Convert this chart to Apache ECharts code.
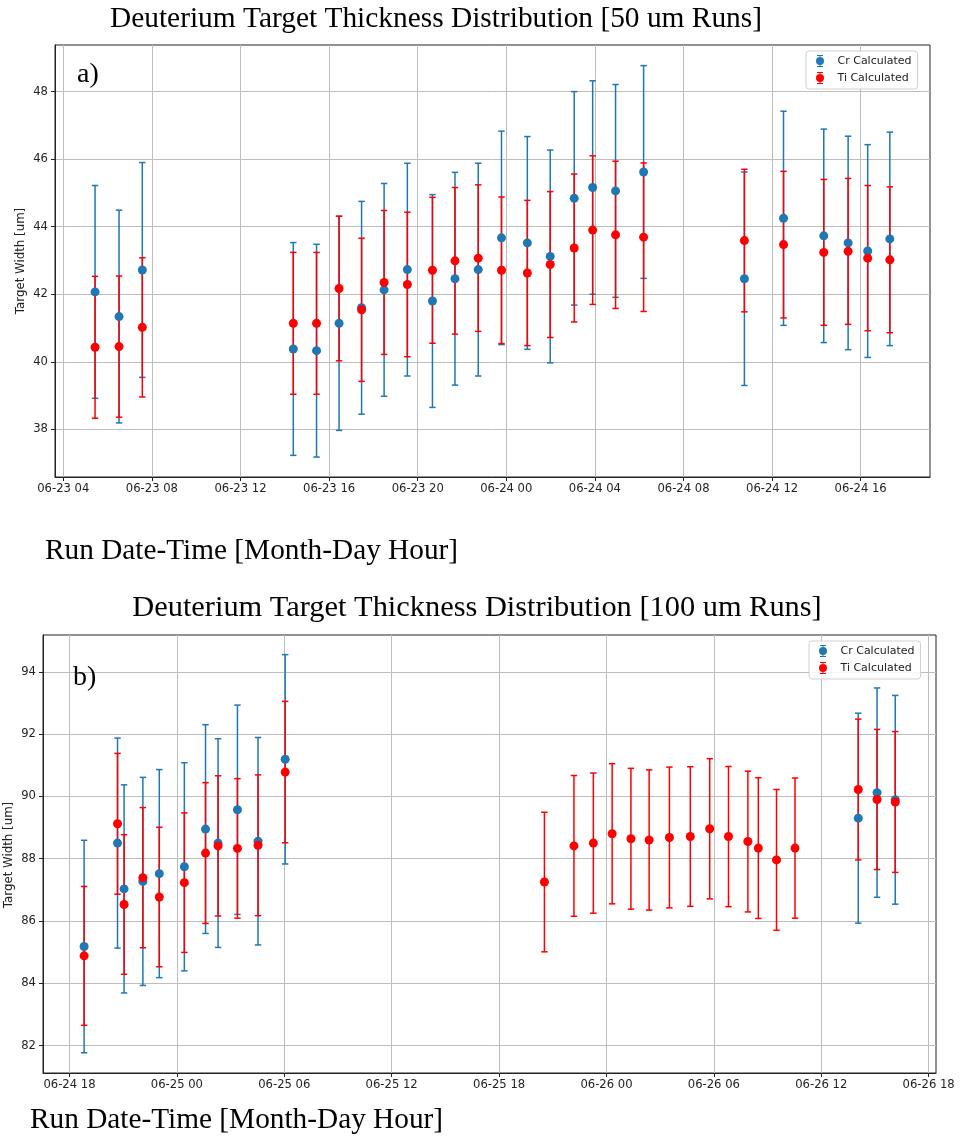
<!DOCTYPE html>
<html>
<head>
<meta charset="utf-8">
<script src="https://cdn.jsdelivr.net/npm/echarts@6/dist/echarts.min.js"></script>
<style>
html,body{margin:0;padding:0;background:#fff;}
#chart{width:960px;height:1139px;}
</style>
</head>
<body>
<div id="chart"></div>
<script>
// ---------- DATA (a) 50 um runs ----------
const timesA = ['06-23 05:26','06-23 06:31','06-23 07:34','06-23 14:23','06-23 15:26','06-23 16:27','06-23 17:28','06-23 18:29','06-23 19:32','06-23 20:40','06-23 21:41','06-23 22:44','06-23 23:47','06-24 00:57','06-24 01:59','06-24 03:04','06-24 03:54','06-24 04:56','06-24 06:12','06-24 10:45','06-24 12:31','06-24 14:20','06-24 15:26','06-24 16:19','06-24 17:19'];
const crA    = [42.07,41.34,42.72,40.38,40.33,41.14,41.60,42.13,42.73,41.80,42.46,42.73,43.67,43.52,43.12,44.84,45.16,45.06,45.62,42.46,44.25,43.73,43.52,43.28,43.64];
const crErrA = [3.15,3.15,3.18,3.15,3.15,3.17,3.15,3.15,3.15,3.15,3.15,3.15,3.16,3.15,3.15,3.16,3.16,3.15,3.15,3.16,3.17,3.16,3.16,3.15,3.16];
const tiA    = [40.43,40.45,41.02,41.14,41.14,42.17,41.54,42.35,42.29,42.71,42.99,43.07,42.71,42.63,42.88,43.37,43.90,43.76,43.69,43.59,43.47,43.24,43.27,43.07,43.02];
const tiErrA = [2.10,2.09,2.06,2.10,2.10,2.14,2.12,2.13,2.14,2.16,2.17,2.17,2.17,2.15,2.16,2.19,2.20,2.18,2.20,2.11,2.17,2.16,2.16,2.15,2.16];
const xTicksA = ['06-23 04','06-23 08','06-23 12','06-23 16','06-23 20','06-24 00','06-24 04','06-24 08','06-24 12','06-24 16'];
const yTicksA = [38,40,42,44,46,48];

// ---------- DATA (b) 100 um runs ----------
const timesB = ['06-24 18:49','06-24 20:41','06-24 21:03','06-24 22:06','06-24 23:01','06-25 00:25','06-25 01:36','06-25 02:18','06-25 03:23','06-25 04:32','06-25 06:03','06-25 20:32','06-25 22:11','06-25 23:16','06-26 00:19','06-26 01:22','06-26 02:23','06-26 03:31','06-26 04:41','06-26 05:46','06-26 06:49','06-26 07:54','06-26 08:29','06-26 09:30','06-26 10:32','06-26 14:04','06-26 15:07','06-26 16:08'];
const crB    = [85.18,88.50,87.03,87.27,87.52,87.74,88.95,88.50,89.57,88.56,91.19,null,null,null,null,null,null,null,null,null,null,null,null,null,null,89.30,90.12,89.89];
const crErrB = [3.41,3.37,3.34,3.34,3.34,3.34,3.35,3.35,3.36,3.33,3.36,null,null,null,null,null,null,null,null,null,null,null,null,null,null,3.37,3.36,3.35];
const tiB    = [84.88,89.12,86.53,87.39,86.77,87.23,88.18,88.41,88.33,88.43,90.78,87.25,88.41,88.50,88.80,88.64,88.60,88.68,88.71,88.96,88.71,88.55,88.34,87.96,88.34,90.22,89.90,89.82];
const tiErrB = [2.23,2.26,2.24,2.25,2.24,2.24,2.26,2.25,2.24,2.26,2.27,2.24,2.26,2.25,2.25,2.26,2.25,2.26,2.24,2.25,2.25,2.26,2.26,2.26,2.25,2.26,2.25,2.26];
const xTicksB = ['06-24 18','06-25 00','06-25 06','06-25 12','06-25 18','06-26 00','06-26 06','06-26 12','06-26 18'];
const yTicksB = [82,84,86,88,90,92,94];

const seriesNames = ['Cr Calculated','Ti Calculated'];
const titleA = 'Deuterium Target Thickness Distribution [50 um Runs]';
const titleB = 'Deuterium Target Thickness Distribution [100 um Runs]';
const xTitle = 'Run Date-Time [Month-Day Hour]';
const yTitle = 'Target Width [um]';

// ---------- helpers ----------
// hours since 06-23 00:00
function toHours(s){
  const m = s.match(/(\d+)-(\d+) (\d+)(?::(\d+))?/);
  const day = +m[2], h = +m[3], mi = m[4] ? +m[4] : 0;
  return (day - 23) * 24 + h + mi / 60;
}
function pad(n){ return (n < 10 ? '0' : '') + n; }
function fmtHours(v){
  const r = Math.round(v);
  const day = 23 + Math.floor(r / 24);
  const h = ((r % 24) + 24) % 24;
  return '06-' + day + ' ' + pad(h);
}
function pts(times, vals, errs){
  const out = [];
  for (let i = 0; i < times.length; i++) {
    if (vals[i] == null) continue;
    out.push([toHours(times[i]), vals[i], errs[i]]);
  }
  return out;
}
const BLUE = '#1f77b4', RED = '#ff0000';
function errRender(color){
  return function(params, api){
    const x = api.value(0), y = api.value(1), e = api.value(2);
    const t = api.coord([x, y + e]), b = api.coord([x, y - e]);
    const hw = 3.2;
    const st = {stroke: color, lineWidth: 1.5, fill: null};
    return {type:'group', children:[
      {type:'line', shape:{x1:t[0], y1:t[1], x2:b[0], y2:b[1]}, style:st},
      {type:'line', shape:{x1:t[0]-hw, y1:t[1], x2:t[0]+hw, y2:t[1]}, style:st},
      {type:'line', shape:{x1:b[0]-hw, y1:b[1], x2:b[0]+hw, y2:b[1]}, style:st}
    ]};
  };
}
const legendIcon = 'path://M1.5,0 L7.5,0 L7.5,0.9 L1.5,0.9 Z M4,0 L5,0 L5,12 L4,12 Z M1.5,11.1 L7.5,11.1 L7.5,12 L1.5,12 Z M0.5,6 A4,4 0 1,1 8.5,6 A4,4 0 1,1 0.5,6 Z';

const FONT = 'DejaVu Sans';
function xAxis(gi, min, max, ticks){
  const vals = ticks.map(toHours);
  return {
    type:'value', gridIndex:gi, min:min, max:max,
    axisLine:{show:true, lineStyle:{color:'#222', width:1}},
    axisTick:{show:true, inside:false, length:4, customValues:vals, lineStyle:{color:'#222'}},
    axisLabel:{customValues:vals, formatter:fmtHours, fontFamily:FONT, fontSize:11.6, color:'#222', margin:6, showMinLabel:true, showMaxLabel:true},
    splitLine:{show:true, lineStyle:{color:'#bdbdbd', width:1}}
  };
}
function yAxis(gi, min, max, ticks){
  return {
    type:'value', gridIndex:gi, min:min, max:max,
    axisLine:{show:true, lineStyle:{color:'#222', width:1}},
    axisTick:{show:true, inside:false, length:4, customValues:ticks, lineStyle:{color:'#222'}},
    axisLabel:{customValues:ticks, fontFamily:FONT, fontSize:11.6, color:'#222', margin:7},
    splitLine:{show:true, lineStyle:{color:'#bdbdbd', width:1}}
  };
}
function mkSeries(gi, cr, crE, ti, tiE, times){
  const crData = pts(times, cr, crE), tiData = pts(times, ti, tiE);
  return [
    {type:'custom', name:seriesNames[0], xAxisIndex:gi, yAxisIndex:gi, renderItem:errRender(BLUE), data:crData, itemStyle:{color:BLUE}, encode:{x:0, y:1}, silent:true},
    {type:'scatter', name:seriesNames[0], xAxisIndex:gi, yAxisIndex:gi, data:crData.map(d=>[d[0],d[1]]), symbolSize:9, itemStyle:{color:BLUE, opacity:1}, silent:true},
    {type:'custom', name:seriesNames[1], xAxisIndex:gi, yAxisIndex:gi, renderItem:errRender(RED), data:tiData, itemStyle:{color:RED}, encode:{x:0, y:1}, silent:true},
    {type:'scatter', name:seriesNames[1], xAxisIndex:gi, yAxisIndex:gi, data:tiData.map(d=>[d[0],d[1]]), symbolSize:9, itemStyle:{color:RED, opacity:1}, silent:true}
  ];
}
function mkLegend(left, top){
  return {
    orient:'vertical', left:left, top:top,
    data:seriesNames.map(n=>({name:n, icon:legendIcon})),
    itemWidth:9, itemHeight:12, itemGap:5,
    padding:[4,6,5,10],
    borderColor:'#d0d0d0', borderWidth:1, borderRadius:3,
    backgroundColor:'rgba(255,255,255,0.85)',
    textStyle:{fontFamily:FONT, fontSize:11, color:'#222', padding:[0,0,0,8]},
    selectedMode:false
  };
}
function yName(x, y){
  return {type:'text', x:x, y:y, rotation:Math.PI/2,
    style:{text:yTitle, x:0, y:0, align:'center', verticalAlign:'middle', font:'11.8px "DejaVu Sans"', fill:'#222'}};
}

const chart = echarts.init(document.getElementById('chart'), null, {renderer:'canvas'});
chart.setOption({
  animation:false,
  backgroundColor:'#fff',
  grid:[
    {left:55, top:45, width:875, height:432, show:true, borderColor:'#222', borderWidth:1, backgroundColor:'transparent', containLabel:false, outerBoundsMode:'none'},
    {left:43, top:635, width:893, height:438, show:true, borderColor:'#222', borderWidth:1, backgroundColor:'transparent', containLabel:false, outerBoundsMode:'none'}
  ],
  xAxis:[ xAxis(0, 3.625, 43.13, xTicksA), xAxis(1, 40.52, 90.41, xTicksB) ],
  yAxis:[ yAxis(0, 36.59, 49.38, yTicksA), yAxis(1, 81.12, 95.18, yTicksB) ],
  legend:[ mkLegend(806, 51), mkLegend(809, 641) ],
  series: mkSeries(0, crA, crErrA, tiA, tiErrA, timesA).concat(mkSeries(1, crB, crErrB, tiB, tiErrB, timesB)),
  graphic:[
    {type:'text', style:{text:titleA, x:436, y:19, align:'center', verticalAlign:'middle', font:'29.4px "Liberation Serif"', fill:'#000'}},
    {type:'text', style:{text:xTitle, x:45, y:551, align:'left', verticalAlign:'middle', font:'29.3px "Liberation Serif"', fill:'#000'}},
    {type:'text', style:{text:titleB, x:477, y:608, align:'center', verticalAlign:'middle', font:'30.4px "Liberation Serif"', fill:'#000'}},
    {type:'text', style:{text:xTitle, x:30, y:1120, align:'left', verticalAlign:'middle', font:'29.3px "Liberation Serif"', fill:'#000'}},
    {type:'text', style:{text:'a)', x:77, y:75, align:'left', verticalAlign:'middle', font:'28px "Liberation Serif"', fill:'#000'}, z:10},
    {type:'text', style:{text:'b)', x:73, y:678, align:'left', verticalAlign:'middle', font:'28px "Liberation Serif"', fill:'#000'}, z:10},
    yName(21, 261),
    yName(9, 855)
  ]
});
</script>
</body>
</html>
